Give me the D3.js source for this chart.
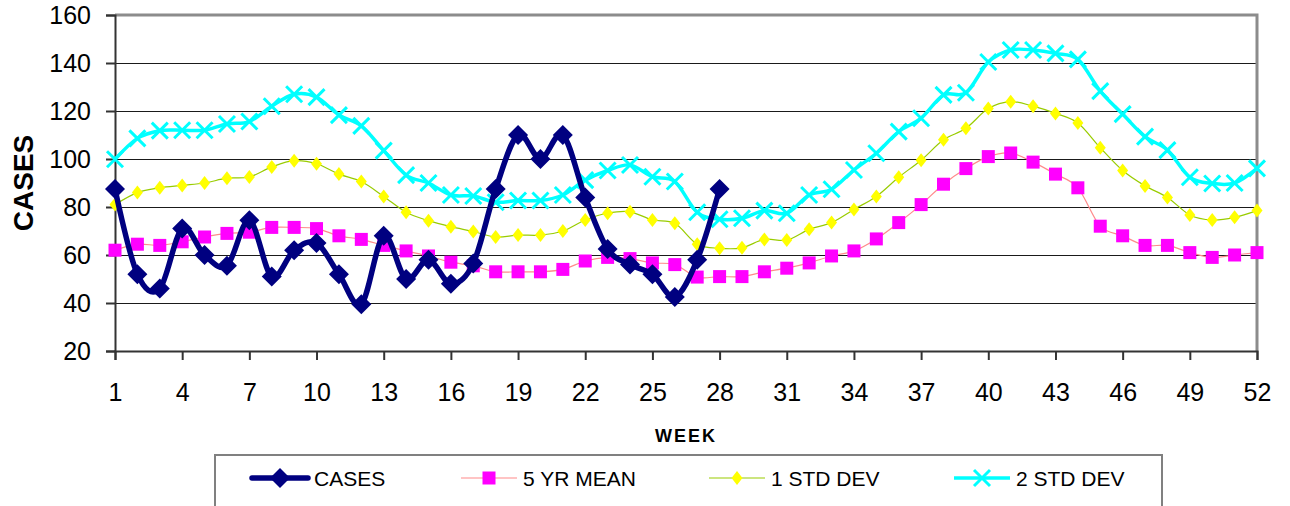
<!DOCTYPE html>
<html lang="en">
<head>
<meta charset="utf-8">
<title>Weekly cases</title>
<script src="https://cdn.jsdelivr.net/npm/d3@7"></script>
<style>
  body { margin: 0; background: #fff; }
  svg { display: block; font-family: "Liberation Sans", Arial, sans-serif; }
  .grid line { stroke: #1a1a1a; stroke-width: 1; }
  .grid .domain { display: none; }
  .axis text { font-size: 25px; fill: #000; }
  .axis line, .axis path { stroke: #333; stroke-width: 2; }
</style>
</head>
<body>
<svg id="chart" width="1290" height="506"></svg>
<script>
// weeks on the x axis
const weeks = [1,2,3,4,5,6,7,8,9,10,11,12,13,14,15,16,17,18,19,20,21,22,23,24,25,26,
  27,28,29,30,31,32,33,34,35,36,37,38,39,40,41,42,43,44,45,46,47,48,49,50,51,52];
const weekTicks = [1,4,7,10,13,16,19,22,25,28,31,34,37,40,43,46,49,52];
const caseTicks = [20,40,60,80,100,120,140,160];

// reported cases (only first 28 weeks)
const cases = [87.5,52,46,71,60,55.5,74.5,51,62,65,52,39.5,68,50,58,48,56.5,87.5,
  110,100,110,84,62.5,56,52,42.5,58,87.5];
const mean5yr = [62,64.5,64,65.5,67.5,69,69.5,71.5,71.5,71,68,66.5,64,61.7,59.6,57,55.5,53,
  53,53,54,57.5,59,58.5,56.7,56,50.8,51,51,53,54.5,56.7,59.6,61.7,66.7,73.5,81,89.5,
  96,101,102.5,98.7,93.7,88,72,68,64,64,61,59,60,61];
const std1 = [81,86,88,89,90,92,92.5,96.7,99.3,98,93.7,90.6,84.4,77.8,74.3,71.8,69.8,67.5,
  68.3,68.3,70,74.6,77.4,78,74.6,73.2,64.5,62.8,63,66.5,66.2,70.7,73.5,79,84.4,92.4,
  99.5,108,112.8,121,123.9,122,119,115,104.7,95.2,88.8,84,76.7,74.6,75.7,78.5];
const std2 = [99.9,108.6,111.8,112,112,114.6,115.6,122,127,125.8,118.3,113.8,103.5,93.3,90,85,84.6,82,
  82.7,82.7,85,91.2,95.2,97.5,92.6,90.6,77.8,74.9,75.3,78.5,77.4,85,87.4,95.4,102.4,111.4,
  117,126.7,127.6,140.4,145.4,145.4,144,141.5,128.3,118.7,109.3,103.7,92.4,89.8,90,96.1];

const seriesNames = ["CASES", "5 YR MEAN", "1 STD DEV", "2 STD DEV"];

const svg = d3.select("#chart");
const plotL = 115, plotR = 1257, plotT = 15, plotB = 351;

const x = d3.scaleLinear().domain([1, 52]).range([plotL, plotR]);
const y = d3.scaleLinear().domain([20, 160]).range([plotB, plotT]);

// gridlines
svg.append("g")
  .attr("class", "grid")
  .attr("transform", `translate(${plotL},0)`)
  .call(d3.axisLeft(y).tickValues(caseTicks.slice(1)).tickSize(-(plotR - plotL)).tickFormat(""));

// frame: grey top and right, dark axes left and bottom
svg.append("path")
  .attr("d", `M${plotL},${plotT}H${plotR}V${plotB}`)
  .attr("fill", "none")
  .attr("stroke", "#8c8c8c")
  .attr("stroke-width", 3);

svg.append("g")
  .attr("class", "axis")
  .attr("transform", `translate(${plotL},0)`)
  .call(d3.axisLeft(y).tickValues(caseTicks).tickSize(9).tickPadding(15));

svg.append("g")
  .attr("class", "axis")
  .attr("transform", `translate(0,${plotB})`)
  .call(d3.axisBottom(x).tickValues(weekTicks).tickSize(9).tickPadding(23).tickFormat(d3.format("d")));

// axis titles
svg.append("text")
  .attr("transform", "translate(33,183) rotate(-90)")
  .attr("text-anchor", "middle")
  .style("font-size", "28px")
  .style("font-weight", "bold")
  .text("CASES");

svg.append("text")
  .attr("x", 686).attr("y", 442)
  .attr("text-anchor", "middle")
  .style("font-size", "18px")
  .style("font-weight", "bold")
  .style("letter-spacing", "2px")
  .text("WEEK");

// markers
const diamond = (w, h) => `M0,${-h}L${w},0L0,${h}L${-w},0Z`;
const square = s => `M${-s},${-s}H${s}V${s}H${-s}Z`;
const cross = s => `M${-s},${-s}L${s},${s}M${-s},${s}L${s},${-s}`;

const styles = [
  { data: cases, line: "#000080", width: 5.5, marker: diamond(10, 10), fill: "#000080", stroke: "none", mw: 0 },
  { data: mean5yr, line: "#ff8a8a", width: 1.2, marker: square(6.5), fill: "#ff00ff", stroke: "none", mw: 0 },
  { data: std1, line: "#99cc00", width: 1.2, marker: diamond(5.5, 7), fill: "#ffff00", stroke: "none", mw: 0 },
  { data: std2, line: "#00ffff", width: 3.5, marker: cross(8), fill: "none", stroke: "#00ffff", mw: 3 }
];

const line = d3.line()
  .x((d, i) => x(weeks[i]))
  .y(d => y(d))
  .curve(d3.curveCardinal.tension(0));

// draw back to front so cases sit on top
[3, 2, 1, 0].forEach(k => {
  const s = styles[k];
  const g = svg.append("g");
  g.append("path")
    .attr("d", line(s.data))
    .attr("fill", "none")
    .attr("stroke", s.line)
    .attr("stroke-width", s.width)
    .attr("stroke-linejoin", "round");
  g.selectAll("path.m")
    .data(s.data)
    .join("path")
    .attr("class", "m")
    .attr("transform", (d, i) => `translate(${x(weeks[i])},${y(d)})`)
    .attr("d", s.marker)
    .attr("fill", s.fill)
    .attr("stroke", s.stroke)
    .attr("stroke-width", s.mw);
});

// legend
svg.append("rect")
  .attr("x", 215).attr("y", 455)
  .attr("width", 947).attr("height", 70)
  .attr("fill", "#fff")
  .attr("stroke", "#808080")
  .attr("stroke-width", 2);

const legendX = [252, 461, 709, 954];
const ly = 478;
seriesNames.forEach((name, k) => {
  const s = styles[k];
  const g = svg.append("g").attr("transform", `translate(${legendX[k]},${ly})`);
  g.append("line")
    .attr("x1", 0).attr("x2", 56)
    .attr("stroke", s.line)
    .attr("stroke-width", s.width)
    .attr("stroke-linecap", k === 0 ? "round" : "butt");
  g.append("path")
    .attr("transform", "translate(28,0)")
    .attr("d", s.marker)
    .attr("fill", s.fill)
    .attr("stroke", s.stroke)
    .attr("stroke-width", s.mw);
  g.append("text")
    .attr("x", 62).attr("dy", "0.36em")
    .style("font-size", "21px")
    .text(name);
});
</script>
</body>
</html>
